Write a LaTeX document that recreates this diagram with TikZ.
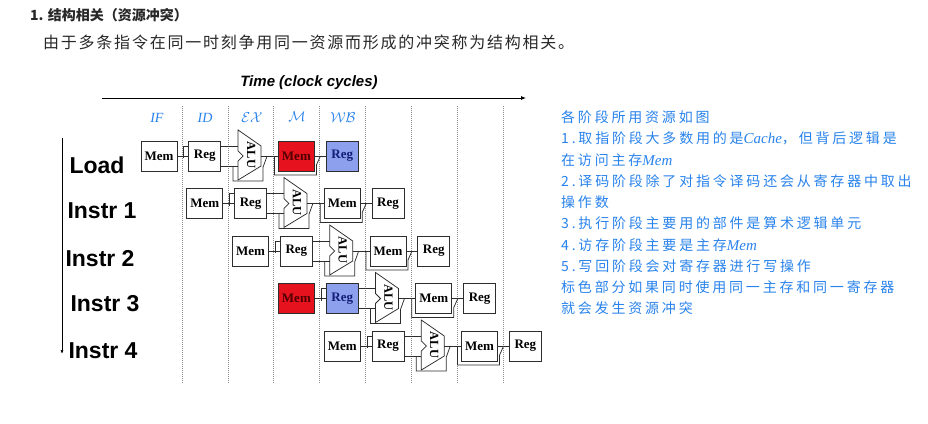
\documentclass[tikz,border=0pt]{standalone}
\usepackage{fontspec}
\setmainfont{Liberation Serif}
\newfontfamily\arialf{Liberation Sans}
\newfontfamily\cjk{Noto Sans CJK SC}
\newfontfamily\cjkhand{Noto Sans CJK SC}[LetterSpace=20]
\newfontfamily\cjksub{Noto Sans CJK SC}[LetterSpace=11]
\newcommand\latw[1]{{\rmfamily\itshape\fontsize{15}{16}\selectfont #1}}
\usetikzlibrary{arrows.meta}
\definecolor{handc}{RGB}{40,130,235}
\definecolor{memred}{RGB}{230,18,30}
\definecolor{regblue}{RGB}{140,160,238}
\definecolor{wirec}{RGB}{45,45,45}
\definecolor{headc}{RGB}{40,40,40}
\begin{document}
\begin{tikzpicture}[x=1pt,y=-1pt,
  box/.style={draw=wirec, line width=0.75pt, fill=white, minimum height=30pt, inner sep=0pt,
    font=\fontsize{13}{14}\selectfont\bfseries},
  memb/.style={box, minimum width=36pt},
  regb/.style={box, minimum width=32pt},
  memhot/.style={memb, fill=memred, text={rgb,255:red,80;green,0;blue,0}},
  reghot/.style={regb, fill=regblue, text={rgb,255:red,20;green,30;blue,120}},
  wirest/.style={draw=wirec, line width=0.75pt},
  gridst/.style={draw=black!45, line width=0.5pt, dash pattern=on 1pt off 1pt},
  stagelbl/.style={text=handc, font=\fontsize{14}{16}\selectfont},
  instr/.style={anchor=base west, font=\arialf\bfseries\fontsize{23}{26}\selectfont},
  handline/.style={anchor=base west, text=handc, font=\cjkhand\fontsize{14}{16}\selectfont, inner sep=0pt},
]
\useasboundingbox (0,0) rectangle (928,423);

% header
\node[anchor=base west, inner sep=0pt, text=headc, font=\cjk\bfseries\fontsize{14}{16}\selectfont] (h1) at (30,20) {1. 结构相关（资源冲突）};
\node[anchor=base west, inner sep=0pt, text=headc, font=\cjksub\fontsize{16}{18}\selectfont] (h2) at (43,48) {由于多条指令在同一时刻争用同一资源而形成的冲突称为结构相关。};

% time axis
\node[font=\arialf\bfseries\itshape\fontsize{15}{18}\selectfont] (time) at (309,83) {Time (clock cycles)};
\coordinate (ts) at (102,98);
\coordinate (te) at (526,98);
\draw[line width=0.8pt, -{Latex[length=5pt,width=4pt]}] (ts) -- (te);

% grid lines
\foreach \j in {0,...,7} {
  \draw[gridst] ({182+45.85*\j},106) -- ({182+45.85*\j},384);
}

% stage labels
\node[stagelbl] (sIF) at (157,118) {\textit{IF}};
\node[stagelbl] (sID) at (205,118) {\textit{ID}};
\node[stagelbl] (sEX) at (252,118) {$\mathcal{EX}$};
\node[stagelbl] (sM)  at (297,117) {$\mathcal{M}$};
\node[stagelbl] (sWB) at (343,118) {$\mathcal{WB}$};

% left axis
\coordinate (ls) at (62,138);
\coordinate (le) at (62,354);
\draw[line width=0.7pt, -{Latex[length=4pt,width=3pt]}] (ls) -- (le);

% instruction labels
\node[instr] (lLoad) at (66,173) {Load};
\node[instr] (l1) at (64,218) {Instr 1};
\node[instr] (l2) at (62,266) {Instr 2};
\node[instr] (l3) at (67,311) {Instr 3};
\node[instr] (l4) at (65,358) {Instr 4};

% pipeline rows
\foreach \i/\sa/\sb/\sc/\sd in {0/memb/regb/memhot/reghot, 1/memb/regb/memb/regb, 2/memb/regb/memb/regb, 3/memhot/reghot/memb/regb, 4/memb/regb/memb/regb} {
  \pgfmathsetmacro\cy{156+47.5*\i}
  \pgfmathsetmacro\xa{159+45.8*\i}
  \pgfmathsetmacro\xb{\xa+45.8}
  \pgfmathsetmacro\xc{\xa+2*45.8-0.5}
  \pgfmathsetmacro\xd{\xa+3*45.8}
  \pgfmathsetmacro\xe{\xa+4*45.8}
  % bypass wires
  \draw[wirest] (\xc-17,\cy+10) -- (\xc-17,\cy+25) -- (\xc+13,\cy+25) -- (\xc+13,\cy+11) -- (\xc+17,\cy);
  \draw[wirest] (\xd-22,\cy) -- (\xd-22,\cy+19) -- (\xd+20,\cy+19) -- (\xd+20,\cy+9) -- (\xd+24,\cy);
  % boxes
  \node[\sa] (m1-\i) at (\xa,\cy) {Mem};
  \node[\sb] (r1-\i) at (\xb,\cy) {Reg};
  \node[\sc] (m2-\i) at (\xd,\cy) {Mem};
  \node[\sd] (r2-\i) at (\xe,\cy) {Reg};
  % ALU
  \draw[wirest, fill=white] (\xc-12,\cy-26) -- (\xc+11,\cy-10) -- (\xc+11,\cy+10) -- (\xc-12,\cy+24) -- (\xc-12,\cy+5) -- (\xc-7,\cy) -- (\xc-12,\cy-5) -- cycle;
  \node[rotate=-90, inner sep=0pt, font=\fontsize{12.5}{14}\selectfont\bfseries] (alu-\i) at (\xc+1,\cy-1) {ALU};
  \coordinate (alu-\i-a) at (\xc-12,\cy-10);
  \coordinate (alu-\i-b) at (\xc-12,\cy+10);
  \coordinate (alu-\i-o) at (\xc+11,\cy);
  % connectors
  \draw[wirest] (m1-\i) -- (r1-\i);
  \draw[wirest] (\xb-21,\cy+2) -- (\xb-21,\cy-10) -- (r1-\i.west |- {(0,\cy-10)});
  \draw[wirest] (r1-\i.east |- alu-\i-a) -- (alu-\i-a);
  \draw[wirest] (r1-\i.east |- alu-\i-b) -- (alu-\i-b);
  \draw[wirest] (alu-\i-o) -- (m2-\i);
  \draw[wirest] (m2-\i) -- (r2-\i);
}

% right-hand notes
\node[handline] (t1) at (561,122) {各阶段所用资源如图};
\node[handline] (t2) at (561,143.5) {1.取指阶段大多数用的是\latw{Cache}，但背后逻辑是};
\node[handline] (t3) at (561,165) {在访问主存\latw{Mem}};
\node[handline] (t4) at (561,186) {2.译码阶段除了对指令译码还会从寄存器中取出};
\node[handline] (t5) at (561,207) {操作数};
\node[handline] (t6) at (561,228.5) {3.执行阶段主要用的部件是算术逻辑单元};
\node[handline] (t7) at (561,250) {4.访存阶段主要是主存\latw{Mem}};
\node[handline] (t8) at (561,271) {5.写回阶段会对寄存器进行写操作};
\node[handline] (t9) at (561,292) {标色部分如果同时使用同一主存和同一寄存器};
\node[handline] (t10) at (561,313.5) {就会发生资源冲突};
\end{tikzpicture}
\end{document}
